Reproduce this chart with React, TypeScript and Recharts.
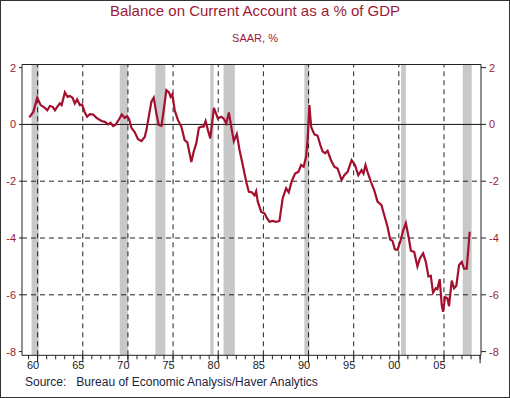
import {
  LineChart, Line, XAxis, YAxis, ReferenceArea, ReferenceLine,
} from "recharts";

// quarterly-ish readings, decimal year -> current account balance, % of GDP
const YEARS = [
  1960.08, 1960.52, 1960.96, 1961.34, 1961.81, 1962.07, 1962.36, 1962.66, 1962.92, 1963.17,
  1963.47, 1963.66, 1964.02, 1964.32, 1964.57, 1964.87, 1965.12, 1965.38, 1965.68, 1965.93,
  1966.23, 1966.48, 1966.78, 1967.15, 1967.52, 1968.08, 1968.44, 1968.81, 1969.07, 1969.36,
  1969.66, 1970.02, 1970.32, 1970.65, 1970.9, 1971.13, 1971.39, 1971.76, 1972.12, 1972.5,
  1972.86, 1973.05, 1973.34, 1973.6, 1973.86, 1974.15, 1974.41, 1974.71, 1974.96, 1975.26,
  1975.55, 1975.73, 1975.92, 1976.18, 1976.54, 1976.92, 1977.28, 1977.58, 1978.02, 1978.28,
  1978.57, 1978.86, 1979.13, 1979.38, 1979.6, 1979.86, 1980.12, 1980.52, 1980.96, 1981.34,
  1981.59, 1981.89, 1982.18, 1982.44, 1982.73, 1983.06, 1983.36, 1983.72, 1984.1, 1984.39,
  1984.72, 1985.02, 1985.2, 1985.38, 1985.76, 1986.12, 1986.4, 1986.67, 1987.04, 1987.41,
  1987.78, 1988.14, 1988.52, 1988.81, 1989.14, 1989.51, 1989.88, 1990.18, 1990.46, 1990.73,
  1990.91, 1991.09, 1991.3, 1991.65, 1992.01, 1992.31, 1992.56, 1992.83, 1993.11, 1993.49,
  1993.86, 1994.22, 1994.66, 1994.96, 1995.33, 1995.77, 1996.14, 1996.51, 1996.87, 1997.09,
  1997.31, 1997.53, 1997.91, 1998.27, 1998.64, 1999.08, 1999.38, 1999.75, 2000.04, 2000.3,
  2000.56, 2000.85, 2001.15, 2001.51, 2001.78, 2002.1, 2002.33, 2002.7, 2003.06, 2003.33,
  2003.69, 2003.99, 2004.28, 2004.54, 2004.79, 2005.09, 2005.27, 2005.53, 2005.75, 2005.9,
  2006.12, 2006.38, 2006.56, 2006.86, 2007.12, 2007.37, 2007.67, 2007.97, 2008.22, 2008.52,
  2008.85,
];

const CA_PCT = [
  0.25, 0.44, 0.94, 0.68, 0.58, 0.5, 0.65, 0.62, 0.5, 0.62,
  0.74, 0.68, 1.13, 0.97, 1.0, 0.94, 0.74, 0.88, 0.68, 0.7,
  0.42, 0.27, 0.36, 0.35, 0.23, 0.12, 0.09, 0.0, 0.06, -0.06,
  0.0, 0.18, 0.35, 0.23, 0.29, 0.18, -0.12, -0.28, -0.52, -0.59,
  -0.44, -0.2, 0.33, 0.8, 0.94, 0.39, -0.02, -0.05, 0.5, 1.21,
  1.13, 0.97, 1.06, 0.5, 0.15, -0.08, -0.55, -0.63, -1.32, -0.96,
  -0.67, -0.12, -0.08, -0.08, 0.12, -0.2, -0.49, 0.58, 0.21, 0.27,
  0.21, 0.04, 0.42, -0.08, -0.59, -0.34, -0.9, -1.43, -2.02, -2.37,
  -2.39, -2.5, -2.35, -2.72, -3.08, -3.13, -3.3, -3.43, -3.4, -3.43,
  -3.4, -2.6, -2.25, -2.39, -2.0, -1.73, -1.67, -1.43, -1.49, -1.14,
  -0.49, 0.68, -0.1, -0.35, -0.4, -0.73, -0.95, -1.02, -0.93, -1.26,
  -1.49, -1.55, -1.96, -1.79, -1.67, -1.26, -1.43, -1.79, -1.61, -1.73,
  -1.43, -1.67, -2.02, -2.31, -2.72, -2.84, -3.19, -3.6, -4.05, -4.1,
  -4.4, -4.42, -4.13, -3.7, -3.47, -4.0, -4.45, -4.49, -5.0, -4.72,
  -4.54, -4.84, -5.35, -5.33, -5.92, -5.77, -5.8, -5.45, -6.35, -6.6,
  -6.08, -6.12, -6.4, -5.5, -5.77, -5.68, -4.95, -4.84, -5.08, -5.08,
  -3.78,
];

const REC_START = [1960.33, 1970.1, 1974.04, 1980.12, 1981.59, 1990.54, 2001.26, 2008.08];
const REC_END = [1961.12, 1971.0, 1975.15, 1980.49, 1982.84, 1991.09, 2001.78, 2009.07];

const Y_TICKS = [-8, -6, -4, -2, 0, 2];
const Y_GRID = [-6, -4, -2];
const X_LINES = [1961, 1966, 1971, 1976, 1981, 1986, 1991, 1996, 2001, 2006];
const X_LABELS = ["60", "65", "70", "75", "80", "85", "90", "95", "00", "05"];
const YEAR_TICKS = Array.from({ length: 51 }, (_, i) => 1960 + i);

const X_DOMAIN = [1959.27, 2010.1];
const Y_DOMAIN = [-8.13, 2.11];

const RED = "#9c1b36";
const FONT = "'Liberation Sans', Arial, sans-serif";

const rows = YEARS.map((y, i) => ({ year: y, ca: CA_PCT[i] }));

function YearTick(props: any) {
  const { x, y, payload } = props;
  if (payload.value === 2010) {
    return <line x1={x} x2={x} y1={y - 6} y2={y + 2} stroke="#222" />;
  }
  const idx = X_LINES.indexOf(payload.value);
  if (idx < 0) return null;
  return (
    <g>
      <line x1={x} x2={x} y1={y - 6} y2={y + 1} stroke="#222" />
      <text x={x - 4.5} y={y} dy="0.71em" textAnchor="middle" fontSize={11} fill="#222" fontFamily={FONT}>
        {X_LABELS[idx]}
      </text>
    </g>
  );
}

export default function App() {
  return (
    <div style={{ position: "relative", width: 510, height: 398, background: "#fff", fontFamily: FONT }}>
      <style>{"body{margin:0}"}</style>
      <div style={{ position: "absolute", top: 2, left: 0, width: 510, textAlign: "center", fontSize: 15, color: RED }}>
        Balance on Current Account as a % of GDP
      </div>
      <div style={{ position: "absolute", top: 32, left: 0, width: 510, textAlign: "center", fontSize: 11, color: RED }}>
        SAAR, %
      </div>

      <LineChart width={510} height={398} data={rows}
        margin={{ top: 64.5, right: 0, bottom: 22.7, left: 8 }}
        style={{ position: "absolute", top: 0, left: 0 }}>
        <XAxis dataKey="year" type="number" domain={X_DOMAIN} ticks={YEAR_TICKS} allowDataOverflow
          height={20} interval={0} tickSize={4} stroke="#222" tick={<YearTick />} />
        <YAxis type="number" domain={Y_DOMAIN} ticks={Y_TICKS} allowDataOverflow width={14}
          tickSize={3} tickMargin={3} stroke="#222"
          tick={{ fontSize: 11, fill: RED, fontFamily: FONT }} />
        <YAxis yAxisId="r" orientation="right" type="number" domain={Y_DOMAIN} ticks={Y_TICKS}
          allowDataOverflow width={29} tickSize={5} tickMargin={3} stroke="#222"
          tick={{ fontSize: 11, fill: RED, fontFamily: FONT, textAnchor: "start" }} />

        {REC_START.map((s, i) => (
          <ReferenceArea key={"r" + i} x1={s} x2={REC_END[i]} y1={Y_DOMAIN[0]} y2={Y_DOMAIN[1]}
            fill="#c8c8c8" fillOpacity={1} stroke="none" />
        ))}
        {X_LINES.map((x) => (
          <ReferenceLine key={"x" + x} x={x} stroke="#222" strokeDasharray="5 4" />
        ))}
        {Y_GRID.map((y) => (
          <ReferenceLine key={"y" + y} y={y} stroke="#222" strokeDasharray="5 4" />
        ))}
        <ReferenceLine y={0} stroke="#111" />
        <ReferenceLine y={Y_DOMAIN[1]} stroke="#222" />

        <Line dataKey="ca" stroke="#a3102f" strokeWidth={2.2} dot={false} isAnimationActive={false} />
      </LineChart>

      <div style={{ position: "absolute", top: 375, left: 25, fontSize: 12, color: "#1e1e3c", whiteSpace: "pre" }}>
        {"Source:   Bureau of Economic Analysis/Haver Analytics"}
      </div>
      <div style={{ position: "absolute", inset: 0, border: "1px solid #333", pointerEvents: "none" }} />
    </div>
  );
}
